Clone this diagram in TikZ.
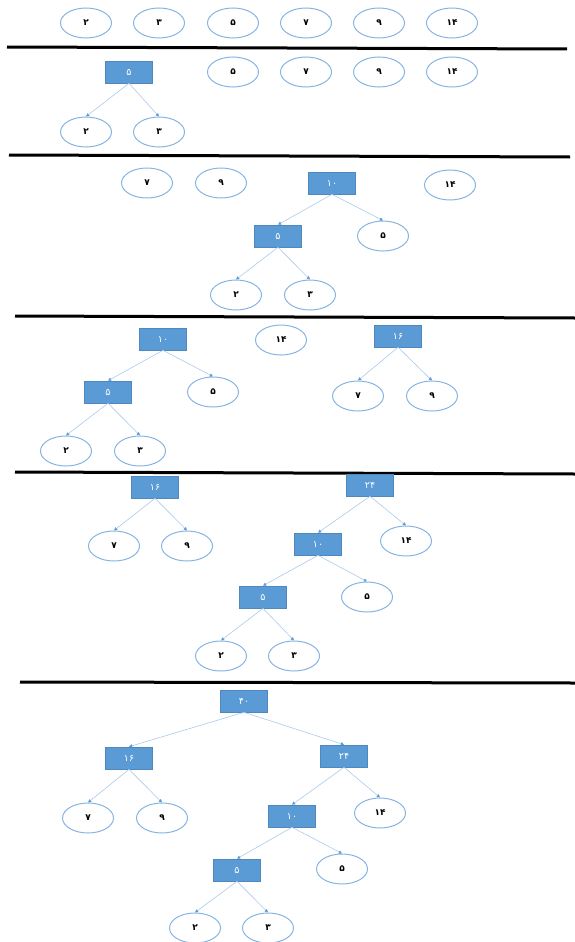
\documentclass[tikz,border=0pt]{standalone}
\usepackage{fontspec}
\newfontfamily\fa{DejaVu Sans}
\usetikzlibrary{arrows.meta,shapes.geometric}
\definecolor{boxblue}{HTML}{5B9BD5}
\definecolor{boxedge}{HTML}{4F87BF}
\definecolor{ellblue}{HTML}{86B4E2}
\definecolor{linkblue}{HTML}{A9CBEC}
\tikzset{
  leaf/.style={ellipse, draw=ellblue, line width=1pt, minimum width=51pt, minimum height=30pt, inner sep=0pt, text=black, font=\fa\bfseries\fontsize{9}{9}\selectfont},
  inode/.style={rectangle, fill=boxblue, draw=boxedge, line width=0.6pt, minimum width=47pt, minimum height=22pt, inner sep=0pt, text=white, font=\fa\fontsize{9.5}{9.5}\selectfont},
  link/.style={draw=linkblue, line width=0.6pt, -{Triangle[length=3.2pt,width=3.2pt,color=boxblue]}},
  sepline/.style={line width=3pt, black}
}
\begin{document}
\begin{tikzpicture}[x=1pt,y=-1pt]
\useasboundingbox (0,0) rectangle (575,942);
% Row 1
\node[leaf] (a2) at (86,23) {۲};
\node[leaf] (a3) at (159,23) {۳};
\node[leaf] (a5) at (233,23) {۵};
\node[leaf] (a7) at (306,23) {۷};
\node[leaf] (a9) at (379,23) {۹};
\node[leaf] (a14) at (452,23) {۱۴};
\draw[sepline] (7,47) -- (567,49);
% Row 2
\node[inode] (b5i) at (129,72) {۵};
\node[leaf] (b5) at (233,72) {۵};
\node[leaf] (b7) at (306,72) {۷};
\node[leaf] (b9) at (379,72) {۹};
\node[leaf] (b14) at (452,72) {۱۴};
\node[leaf] (b2) at (86,132) {۲};
\node[leaf] (b3) at (159,132) {۳};
\draw[link] (b5i.south) -- (b2.north);
\draw[link] (b5i.south) -- (b3.north);
\draw[sepline] (9,155) -- (570,157);
% Row 3
\node[leaf] (c7) at (147,183) {۷};
\node[leaf] (c9) at (221,183) {۹};
\node[inode] (c10) at (332,183) {۱۰};
\node[leaf] (c14) at (450,185) {۱۴};
\node[inode] (c5i) at (278,236) {۵};
\node[leaf] (c5) at (383,236) {۵};
\node[leaf] (c2) at (236,295) {۲};
\node[leaf] (c3) at (310,295) {۳};
\draw[link] (c10.south) -- (c5i.north);
\draw[link] (c10.south) -- (c5.north);
\draw[link] (c5i.south) -- (c2.north);
\draw[link] (c5i.south) -- (c3.north);
\draw[sepline] (15,316) -- (575,318);
% Row 4
\node[inode] (d10) at (163,339) {۱۰};
\node[leaf] (d14) at (281,340) {۱۴};
\node[inode] (d16) at (398,336) {۱۶};
\node[inode] (d5i) at (108,392) {۵};
\node[leaf] (d5) at (213,392) {۵};
\node[leaf] (d7) at (358,396) {۷};
\node[leaf] (d9) at (432,396) {۹};
\node[leaf] (d2) at (66,451) {۲};
\node[leaf] (d3) at (140,451) {۳};
\draw[link] (d10.south) -- (d5i.north);
\draw[link] (d10.south) -- (d5.north);
\draw[link] (d5i.south) -- (d2.north);
\draw[link] (d5i.south) -- (d3.north);
\draw[link] (d16.south) -- (d7.north);
\draw[link] (d16.south) -- (d9.north);
\draw[sepline] (15,472) -- (575,474);
% Row 5
\node[inode] (e16) at (155,487) {۱۶};
\node[inode] (e24) at (370,485) {۲۴};
\node[leaf] (e7) at (114,546) {۷};
\node[leaf] (e9) at (187,546) {۹};
\node[inode] (e10) at (318,544) {۱۰};
\node[leaf] (e14) at (406,541) {۱۴};
\node[inode] (e5i) at (263,597) {۵};
\node[leaf] (e5) at (367,597) {۵};
\node[leaf] (e2) at (221,656) {۲};
\node[leaf] (e3) at (294,656) {۳};
\draw[link] (e16.south) -- (e7.north);
\draw[link] (e16.south) -- (e9.north);
\draw[link] (e24.south) -- (e10.north);
\draw[link] (e24.south) -- (e14.north);
\draw[link] (e10.south) -- (e5i.north);
\draw[link] (e10.south) -- (e5.north);
\draw[link] (e5i.south) -- (e2.north);
\draw[link] (e5i.south) -- (e3.north);
\draw[sepline] (20,682) -- (575,683);
% Row 6
\node[inode] (f40) at (244,701) {۴۰};
\node[inode] (f16) at (129,758) {۱۶};
\node[inode] (f24) at (344,756) {۲۴};
\node[leaf] (f7) at (88,818) {۷};
\node[leaf] (f9) at (162,818) {۹};
\node[inode] (f10) at (292,816) {۱۰};
\node[leaf] (f14) at (380,813) {۱۴};
\node[inode] (f5i) at (237,870) {۵};
\node[leaf] (f5) at (342,869) {۵};
\node[leaf] (f2) at (195,928) {۲};
\node[leaf] (f3) at (268,928) {۳};
\draw[link] (f40.south) -- (f16.north);
\draw[link] (f40.south) -- (f24.north);
\draw[link] (f16.south) -- (f7.north);
\draw[link] (f16.south) -- (f9.north);
\draw[link] (f24.south) -- (f10.north);
\draw[link] (f24.south) -- (f14.north);
\draw[link] (f10.south) -- (f5i.north);
\draw[link] (f10.south) -- (f5.north);
\draw[link] (f5i.south) -- (f2.north);
\draw[link] (f5i.south) -- (f3.north);
\end{tikzpicture}
\end{document}
